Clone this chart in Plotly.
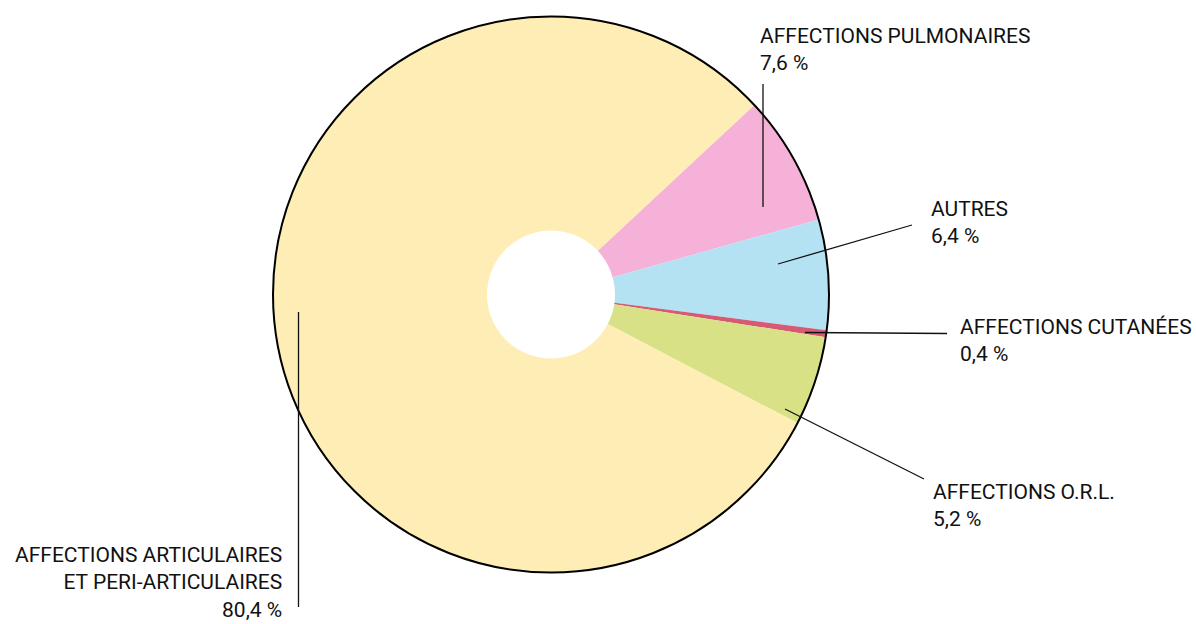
import plotly.graph_objects as go

W, H = 1196, 624

# Slice data, clockwise from the upper right
categories = [
    "AFFECTIONS PULMONAIRES",
    "AUTRES",
    "AFFECTIONS CUTANÉES",
    "AFFECTIONS O.R.L.",
    "AFFECTIONS ARTICULAIRES<br>ET PERI-ARTICULAIRES",
]
values = [7.6, 6.4, 0.4, 5.2, 80.4]
value_labels = ["7,6 %", "6,4 %", "0,4 %", "5,2 %", "80,4 %"]
colors = ["#F5B1D7", "#B4E2F3", "#D65A74", "#D9E187", "#FEEDB4"]

# Pie geometry in pixels
cx, cy, R = 551, 294.5, 278
hole_r = 64

def px(x):
    return x / W

def py(y):
    return 1 - y / H

fig = go.Figure(
    go.Pie(
        labels=categories,
        values=values,
        sort=False,
        direction="clockwise",
        rotation=47,
        hole=hole_r / R,
        marker=dict(colors=colors, line=dict(width=0)),
        textinfo="none",
        hoverinfo="label+percent",
        domain=dict(x=[px(cx - R), px(cx + R)], y=[py(cy + R), py(cy - R)]),
        showlegend=False,
    )
)

# Outer black outline
shapes = [
    dict(type="circle", xref="paper", yref="paper",
         x0=px(cx - R), x1=px(cx + R), y0=py(cy + R), y1=py(cy - R),
         line=dict(color="black", width=2))
]

# Leader lines (pixel endpoints)
leaders = [
    ((763, 207), (763, 84)),
    ((778, 264), (912, 225)),
    ((805, 332.5), (947, 333.5)),
    ((785, 409), (924, 479)),
    ((298.5, 312), (298.5, 607)),
]
for (x0, y0), (x1, y1) in leaders:
    shapes.append(dict(type="line", xref="paper", yref="paper",
                       x0=px(x0), y0=py(y0), x1=px(x1), y1=py(y1),
                       line=dict(color="#111111", width=1.3)))

font = dict(family="Roboto, sans-serif", size=21, color="#111111")

# Label anchors: (x, top y, horizontal anchor, align)
label_pos = [
    (758, 22, "left", "left"),
    (929, 195, "left", "left"),
    (958, 313, "left", "left"),
    (931, 478, "left", "left"),
    (284, 541, "right", "right"),
]
annotations = []
for cat, vl, (x, y, xa, al) in zip(categories, value_labels, label_pos):
    annotations.append(dict(
        text=f"{cat}<br>{vl}", xref="paper", yref="paper",
        x=px(x), y=py(y), xanchor=xa, yanchor="top", align=al,
        showarrow=False, font=font,
    ))

fig.update_layout(
    width=W, height=H,
    margin=dict(l=0, r=0, t=0, b=0),
    paper_bgcolor="white", plot_bgcolor="white",
    shapes=shapes, annotations=annotations,
)

fig.write_html("out.html")
